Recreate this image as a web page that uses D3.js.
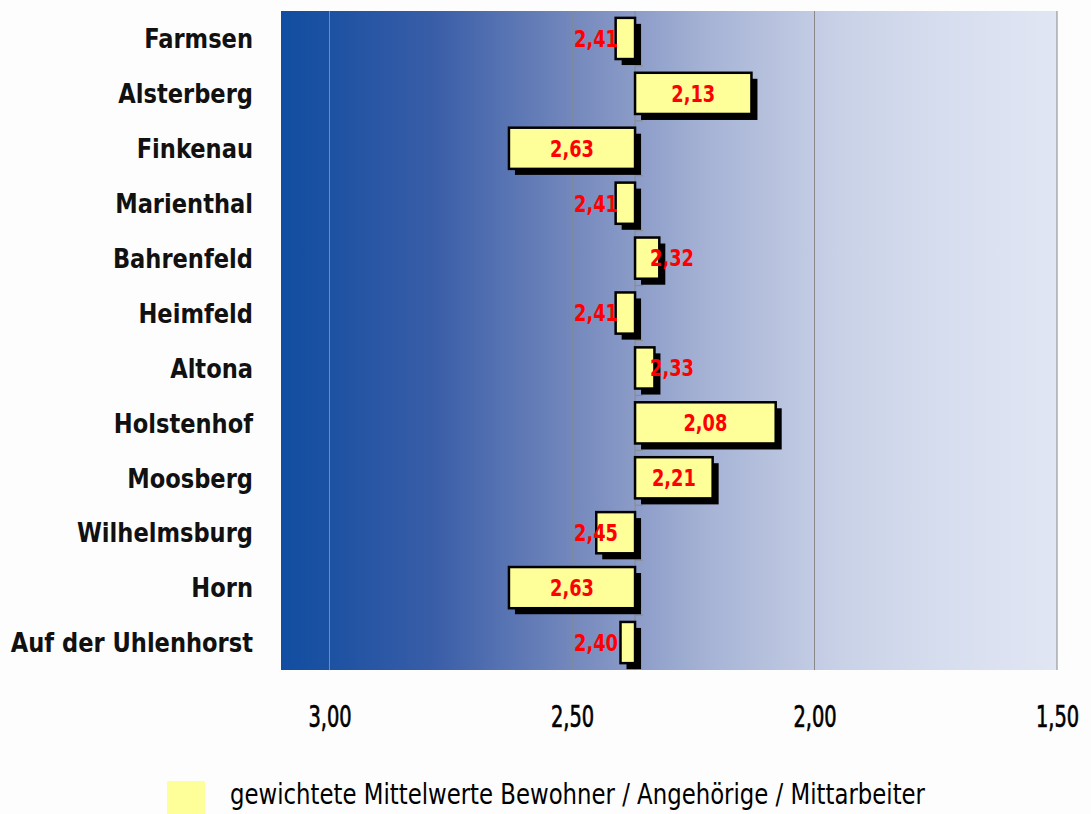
<!DOCTYPE html>
<html>
<head>
<meta charset="utf-8">
<script src="https://cdn.jsdelivr.net/npm/d3@7"></script>
<style>
  html, body { margin: 0; padding: 0; background: #fdfdfd; }
  svg { display: block; }
</style>
</head>
<body>
<svg id="chart" width="1091" height="814"></svg>
<script>
// Weighted means per facility (lower is better, axis runs right-to-left)
const categories = ["Farmsen", "Alsterberg", "Finkenau", "Marienthal", "Bahrenfeld", "Heimfeld",
  "Altona", "Holstenhof", "Moosberg", "Wilhelmsburg", "Horn", "Auf der Uhlenhorst"];
const values = [2.41, 2.13, 2.63, 2.41, 2.32, 2.41, 2.33, 2.08, 2.21, 2.45, 2.63, 2.40];
const baseline = 2.37;
const tickValues = [3.00, 2.50, 2.00, 1.50];
const legendLabel = "gewichtete Mittelwerte Bewohner / Angehörige / Mittarbeiter";

const svg = d3.select("#chart");
const plot = { left: 281, right: 1057, top: 11, bottom: 670 };

const x = d3.scaleLinear().domain([3.10, 1.50]).range([plot.left, plot.right]);
const y = d3.scaleBand().domain(categories).range([plot.top, plot.bottom])
  .paddingInner(0.25).paddingOuter(0.125);

const fmt = v => d3.format(".2f")(v).replace(".", ",");
const condensed = "'DejaVu Sans Condensed', 'DejaVu Sans', sans-serif";
const narrow = "'Liberation Sans Narrow', 'DejaVu Sans Condensed', sans-serif";

// Background gradient of the plot area
const defs = svg.append("defs");
const grad = defs.append("linearGradient").attr("id", "bg").attr("x1", 0).attr("x2", 1).attr("y1", 0).attr("y2", 0);
[[0, "#114ea1"], [0.06, "#1c51a2"], [0.2, "#3a5ea8"], [0.38, "#7589bd"], [0.55, "#a6b3d5"],
 [0.72, "#c9d1e7"], [0.85, "#d6ddee"], [1, "#e1e6f4"]]
  .forEach(([o, c]) => grad.append("stop").attr("offset", o).attr("stop-color", c));

svg.append("rect")
  .attr("x", plot.left).attr("y", plot.top)
  .attr("width", plot.right - plot.left).attr("height", plot.bottom - plot.top)
  .attr("fill", "url(#bg)");

// Vertical gridlines
svg.append("g").selectAll("line").data(tickValues).join("line")
  .attr("x1", d => x(d)).attr("x2", d => x(d))
  .attr("y1", plot.top).attr("y2", plot.bottom)
  .attr("stroke", "#888").attr("stroke-width", 1);

// Baseline axis with small category separators
const bx = x(baseline);
svg.append("line")
  .attr("x1", bx).attr("x2", bx).attr("y1", plot.top).attr("y2", plot.bottom)
  .attr("stroke", "#8a8a8a").attr("stroke-width", 1);
svg.append("g").selectAll("line").data(categories.slice(1)).join("line")
  .attr("x1", bx).attr("x2", bx + 8)
  .attr("y1", d => y(d) - y.step() * y.paddingInner() / 2)
  .attr("y2", d => y(d) - y.step() * y.paddingInner() / 2)
  .attr("stroke", "#8a8a8a").attr("stroke-width", 1);

const rows = categories.map((c, i) => ({ c, v: values[i] }));

// Bar shadows
svg.append("g").selectAll("rect").data(rows).join("rect")
  .attr("x", d => Math.min(x(d.v), bx) + 6)
  .attr("y", d => y(d.c) + 6)
  .attr("width", d => Math.abs(x(d.v) - bx))
  .attr("height", y.bandwidth())
  .attr("fill", "#000");

// Bars
svg.append("g").selectAll("rect").data(rows).join("rect")
  .attr("x", d => Math.min(x(d.v), bx))
  .attr("y", d => y(d.c))
  .attr("width", d => Math.abs(x(d.v) - bx))
  .attr("height", y.bandwidth())
  .attr("fill", "#ffff99")
  .attr("stroke", "#000").attr("stroke-width", 2.5);

// Value labels
svg.append("g").selectAll("text").data(rows).join("text")
  .attr("transform", d => {
    const mid = (x(d.v) + bx) / 2;
    const cx = d.v > baseline ? Math.min(mid, bx - 39) : Math.max(mid, bx + 37);
    return `translate(${cx},${y(d.c) + y.bandwidth() / 2}) scale(0.86,1)`;
  })
  .attr("dy", "0.36em")
  .attr("text-anchor", "middle")
  .attr("font-family", condensed)
  .attr("font-weight", "bold")
  .attr("font-size", 23)
  .attr("fill", "#ff0000")
  .text(d => fmt(d.v));

// Category labels
svg.append("g").selectAll("text").data(categories).join("text")
  .attr("transform", d => `translate(253,${y(d) + y.bandwidth() / 2}) scale(0.93,1)`)
  .attr("dy", "0.36em")
  .attr("text-anchor", "end")
  .attr("font-family", condensed)
  .attr("font-weight", "bold")
  .attr("font-size", 27)
  .attr("fill", "#111")
  .text(d => d);

// Value axis
const axis = svg.append("g")
  .attr("transform", `translate(0,${plot.bottom})`)
  .call(d3.axisBottom(x).tickValues(tickValues).tickSize(0).tickPadding(36).tickFormat(fmt));
axis.select(".domain").remove();
axis.selectAll("text")
  .attr("font-family", narrow)
  .attr("font-size", 30)
  .attr("fill", "#000")
  .attr("stroke", "#000")
  .attr("stroke-width", 0.7)
  .attr("transform", "scale(0.72,1)");

// Legend
svg.append("rect").attr("x", 167).attr("y", 781).attr("width", 38).attr("height", 33).attr("fill", "#ffff99");
svg.append("text")
  .attr("x", 230).attr("y", 804)
  .attr("font-family", narrow)
  .attr("font-size", 29)
  .attr("fill", "#000")
  .attr("textLength", 695).attr("lengthAdjust", "spacingAndGlyphs")
  .text(legendLabel);
</script>
</body>
</html>
